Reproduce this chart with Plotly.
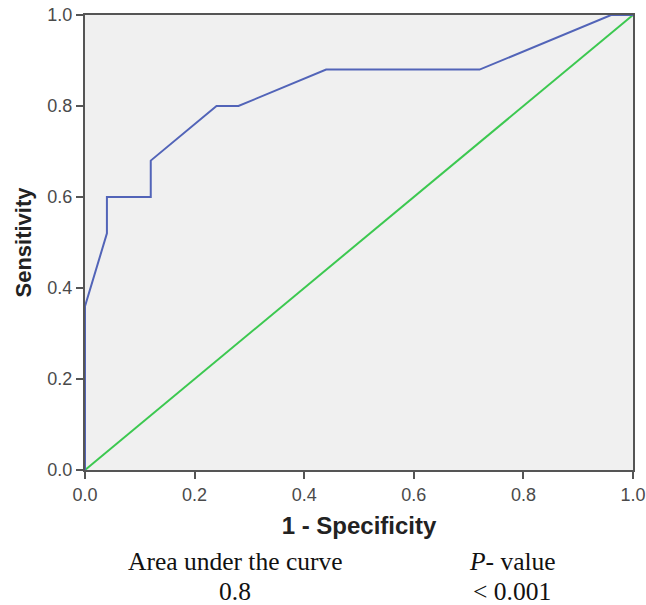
import plotly.graph_objects as go

fpr = [0.0, 0.0, 0.04, 0.04, 0.12, 0.12, 0.24, 0.28, 0.44, 0.72, 0.96, 1.0]
tpr = [0.0, 0.36, 0.52, 0.60, 0.60, 0.68, 0.80, 0.80, 0.88, 0.88, 1.0, 1.0]
ref_x = [0.0, 1.0]
ref_y = [0.0, 1.0]
tick_vals = [0.0, 0.2, 0.4, 0.6, 0.8, 1.0]
tick_text = ["0.0", "0.2", "0.4", "0.6", "0.8", "1.0"]
auc_label = "Area under the curve"
auc_value = "0.8"
p_label = "<i>P</i>- value"
p_value = "< 0.001"

fig = go.Figure()
fig.add_trace(go.Scatter(x=ref_x, y=ref_y, mode="lines",
                         line=dict(color="#3cc850", width=2), showlegend=False))
fig.add_trace(go.Scatter(x=fpr, y=tpr, mode="lines",
                         line=dict(color="#5264b8", width=2), showlegend=False))

axis_common = dict(
    range=[0, 1], tickvals=tick_vals, ticktext=tick_text, automargin=False,
    showgrid=False, zeroline=False, showline=True, linecolor="#555555",
    linewidth=2, mirror=True, ticks="outside", ticklen=7, tickwidth=2,
    tickcolor="#555555", tickfont=dict(family="Liberation Sans, Arial", size=18, color="#4a4a4a"),
)
fig.update_xaxes(**axis_common,
                 title=dict(text="<b>1 - Specificity</b>", standoff=14,
                            font=dict(family="Liberation Sans, Arial", size=24, color="#222222")))
fig.update_yaxes(**axis_common,
                 title=dict(text="<b>Sensitivity</b>", standoff=10,
                            font=dict(family="Liberation Sans, Arial", size=22, color="#222222")))

serif = dict(family="Liberation Serif, Times New Roman", size=25.5, color="#111111")
for txt, xp, yp in [(auc_label, 235, 561), (auc_value, 235, 591), (p_label, 512, 561), (p_value, 512, 591)]:
    fig.add_annotation(x=(xp - 85) / 548, y=(470 - yp) / 455, xref="paper", yref="paper",
                       text=txt, showarrow=False, font=serif, xanchor="center", yanchor="middle",
                       borderpad=0)

fig.update_layout(
    width=646, height=605,
    margin=dict(l=85, r=13, t=15, b=135, autoexpand=False),
    plot_bgcolor="#f0f0f0", paper_bgcolor="white",
)
fig.write_html("out.html", config={"displayModeBar": False},
               post_script="document.body.style.margin='0';document.body.style.overflow='hidden';")
